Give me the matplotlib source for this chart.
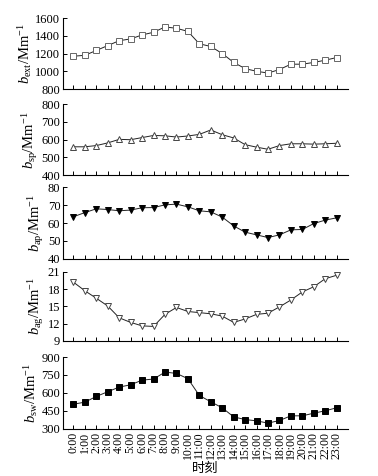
import matplotlib
matplotlib.use("Agg")
import matplotlib.pyplot as plt

plt.rcParams["font.family"] = ["Liberation Serif", "Noto Sans CJK SC", "DejaVu Sans"]
plt.rcParams["mathtext.fontset"] = "custom"
plt.rcParams["mathtext.it"] = "Liberation Serif:italic"
plt.rcParams["mathtext.rm"] = "Liberation Serif"

HOURS = [f"{h}:00" for h in range(24)]

B_EXT = [1170, 1180, 1235, 1290, 1345, 1365, 1410, 1440, 1500, 1485, 1450, 1310,
         1280, 1200, 1100, 1030, 1000, 980, 1020, 1080, 1080, 1100, 1125, 1155]
B_SP = [560, 560, 567, 582, 602, 600, 612, 624, 622, 615, 621, 630,
        655, 628, 610, 572, 558, 546, 567, 577, 577, 575, 577, 580]
B_AP = [63.5, 65.8, 67.9, 67.5, 66.8, 67.2, 68.5, 68.6, 70.1, 70.5, 69.0, 66.8,
        66.2, 63.3, 58.4, 54.9, 53.4, 51.9, 53.4, 56.2, 56.4, 59.7, 61.6, 62.9]
B_AG = [19.2, 17.7, 16.4, 15.05, 13.0, 12.2, 11.6, 11.5, 13.6, 14.8, 14.1, 13.9,
        13.7, 13.3, 12.2, 12.8, 13.6, 13.8, 14.9, 16.1, 17.5, 18.4, 19.8, 20.4]
B_SW = [506, 523, 571, 610, 649, 668, 707, 716, 774, 763, 719, 579,
        526, 476, 400, 378, 367, 348, 370, 409, 409, 431, 451, 476]

# (values, label, ylim, yticks, marker, facecolor, edgecolor, axes rect)
PANELS = [
    (B_EXT, r"$b_{\rm ext}$/Mm$^{-1}$", (800, 1600), range(800, 1601, 200),
     "s", "white", "#666666", [0.167, 0.813, 0.754, 0.149]),
    (B_SP, r"$b_{\rm sp}$/Mm$^{-1}$", (400, 800), range(400, 801, 100),
     "^", "white", "#444444", [0.167, 0.632, 0.754, 0.149]),
    (B_AP, r"$b_{\rm ap}$/Mm$^{-1}$", (40, 80), range(40, 81, 10),
     "v", "black", "black", [0.167, 0.456, 0.754, 0.151]),
    (B_AG, r"$b_{\rm ag}$/Mm$^{-1}$", (9, 21), range(9, 22, 3),
     "v", "white", "#444444", [0.167, 0.284, 0.754, 0.145]),
    (B_SW, r"$b_{\rm sw}$/Mm$^{-1}$", (300, 900), range(300, 901, 150),
     "s", "black", "black", [0.167, 0.099, 0.754, 0.151]),
]


def main():
    fig = plt.figure(figsize=(3.78, 4.76), dpi=100)
    x = list(range(24))
    for i, (vals, label, ylim, yticks, mk, fc, ec, rect) in enumerate(PANELS):
        ax = fig.add_axes(rect)
        ax.plot(x, vals, color="#222222", lw=0.7, marker=mk, ms=4.5,
                mfc=fc, mec=ec, mew=0.7)
        ax.set_xlim(-0.9, 24.0)
        ax.set_ylim(*ylim)
        ax.set_yticks(list(yticks))
        ax.set_xticks(x)
        for s in ("top", "right"):
            ax.spines[s].set_visible(False)
        for s in ("left", "bottom"):
            ax.spines[s].set_linewidth(0.8)
        ax.tick_params(direction="in", length=3, width=0.7, labelsize=9, pad=2)
        ax.set_ylabel(label, fontsize=10.5, labelpad=1)
        if i == len(PANELS) - 1:
            ax.set_xticklabels(HOURS, rotation=90, fontsize=8.5)
            ax.set_xlabel("时刻", fontsize=9.5, family=["Noto Sans CJK SC"], labelpad=2)
        else:
            ax.set_xticklabels([])
    fig.savefig("out.png", dpi=100)


if __name__ == "__main__":
    main()
